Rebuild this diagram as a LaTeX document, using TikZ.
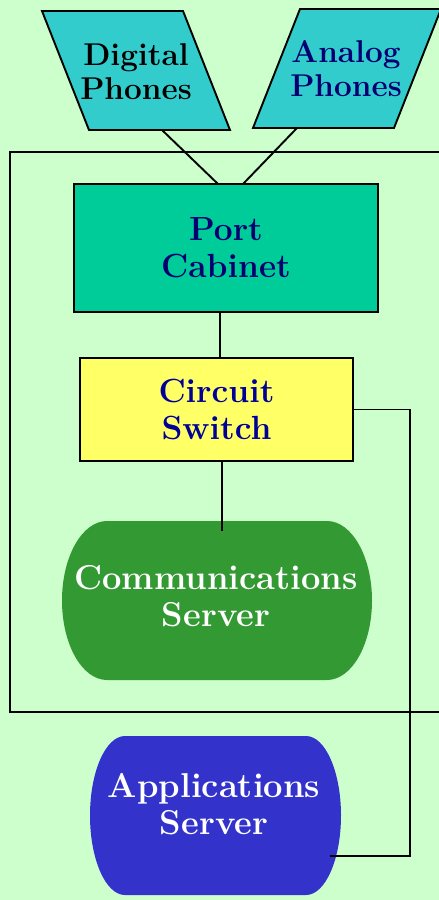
\documentclass[tikz,border=0pt]{standalone}
\usepackage{tikz}
\definecolor{bgcol}{HTML}{CCFFCC}
\definecolor{phonecol}{HTML}{33CCCC}
\definecolor{portcol}{HTML}{00CC99}
\definecolor{switchcol}{HTML}{FFFF66}
\definecolor{commcol}{HTML}{339933}
\definecolor{appcol}{HTML}{3333CC}
\definecolor{navytext}{HTML}{000070}
\definecolor{bluetext}{HTML}{000099}
\tikzset{
  wire/.style={line width=1.9pt, black},
  edge/.style={line width=1.9pt, draw=black},
  txt/.style={align=center, font=\fontsize{33.5}{37}\selectfont\bfseries, inner sep=0pt},
  phonetxt/.style={align=center, font=\fontsize{31.5}{34}\selectfont\bfseries, inner sep=0pt},
  srvtxt/.style={align=center, font=\fontsize{34.5}{37}\selectfont\bfseries, inner sep=0pt, text=white},
}
\begin{document}
\begin{tikzpicture}[x=1pt, y=-1pt]
\useasboundingbox (0,0) rectangle (439,900);
\clip (0,0) rectangle (439,900);
\fill[bgcol] (0,0) rectangle (439,900);

% outer enclosure
\draw[edge] (10,152) rectangle (460,712);

% phone groups (parallelograms)
\coordinate (dpbot) at (162,130);
\coordinate (apbot) at (297,128);
\filldraw[edge, fill=phonecol] (42,11) -- (183,11) -- (230,130) -- (89,130) -- cycle;
\filldraw[edge, fill=phonecol] (300,9) -- (441,9) -- (394,128) -- (253,128) -- cycle;
\node[phonetxt, text=black] (digital) at (136,72) {Digital\\Phones};
\node[phonetxt, text=navytext] (analog) at (346,69) {Analog\\Phones};

% port cabinet and circuit switch
\node[edge, fill=portcol, minimum width=304pt, minimum height=128pt, txt, text=navytext] (port) at (226,248) {Port\\Cabinet};
\node[edge, fill=switchcol, minimum width=273pt, minimum height=103pt, txt, text=bluetext] (switch) at (216.5,409.5) {Circuit\\Switch};

% servers: flat top and bottom, bulging elliptical sides
\fill[commcol] (107,521) -- (327,521)
  .. controls (351.85,521) and (372,556.6) .. (372,600.5)
  .. controls (372,644.4) and (351.85,680) .. (327,680)
  -- (107,680)
  .. controls (82.15,680) and (62,644.4) .. (62,600.5)
  .. controls (62,556.6) and (82.15,521) .. (107,521) -- cycle;
\fill[appcol] (125,736) -- (306,736)
  .. controls (325.3,736) and (341,771.6) .. (341,815.5)
  .. controls (341,859.4) and (325.3,895) .. (306,895)
  -- (125,895)
  .. controls (105.7,895) and (90,859.4) .. (90,815.5)
  .. controls (90,771.6) and (105.7,736) .. (125,736) -- cycle;
\node[srvtxt] (comm) at (216,596) {Communications\\Server};
\node[srvtxt] (app) at (214,804) {Applications\\Server};

% connectors
\coordinate (commtop) at (222,531);
\coordinate (append) at (330,856);
\draw[wire] (dpbot) -- (218,184);
\draw[wire] (apbot) -- (243,184);
\draw[wire] (port.south -| 220,0) -- (switch.north -| 220,0);
\draw[wire] (switch.south -| commtop) -- (commtop);
\draw[wire] (switch.east) -- (switch.east -| 410,0) |- (append);
\end{tikzpicture}
\end{document}
